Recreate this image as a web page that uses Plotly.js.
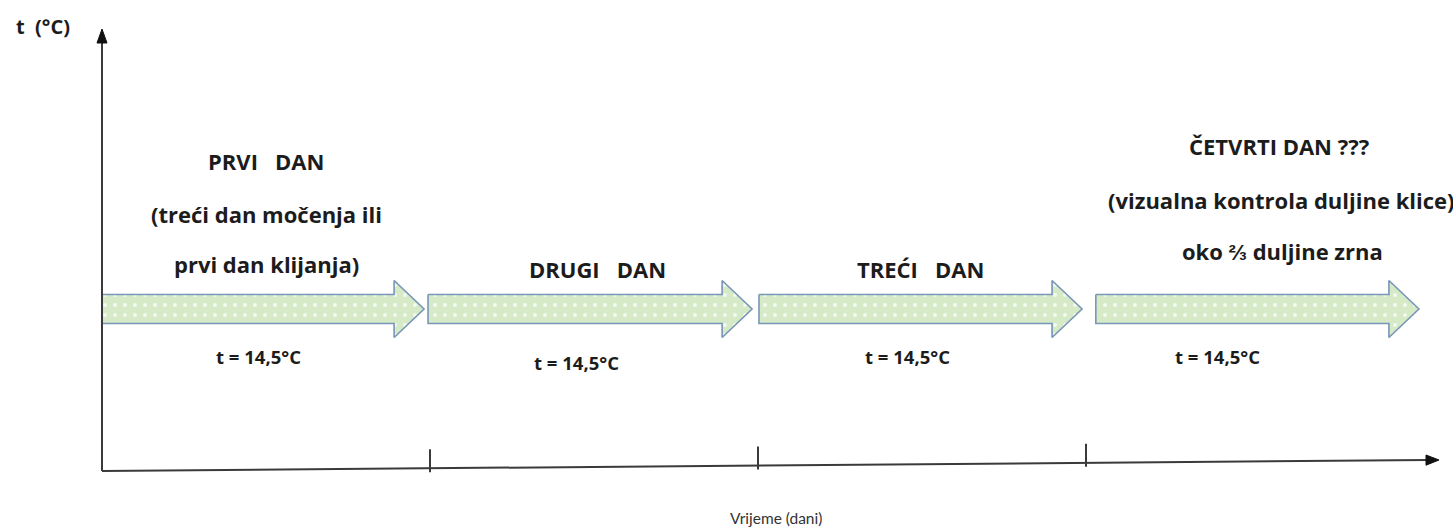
<!DOCTYPE html>
<html>
<head>
<meta charset="utf-8">
<script src="https://cdn.plot.ly/plotly-3.0.1.min.js"></script>
<style>html,body{margin:0;padding:0;background:#fff;}#chart{width:1453px;height:528px;}</style>
</head>
<body>
<div id="chart"></div>
<script>
// ---------- data ----------
const tickDays = [1, 2, 3];
const arrowStart = [0, 0.994, 2.003, 3.030];
const arrowEnd = [0.982, 1.982, 2.988, 4.015];
const dayTitles = ["PRVI   DAN", "DRUGI   DAN", "TREĆI   DAN", "ČETVRTI DAN ???"];
const dayNotes = [["(treći dan močenja ili", "prvi dan klijanja)"], [], [], ["(vizualna kontrola duljine klice)", "oko ⅔ duljine zrna"]];
const temps = [14.5, 14.5, 14.5, 14.5];
const yAxisLabel = "t  (°C)";
const xAxisLabel = "Vrijeme (dani)";

// ---------- layout helpers (pixel -> data) ----------
const PX0 = 102, PXD = 328, PY0 = 471, PYU = 436;
const X = px => (px - PX0) / PXD;
const Y = py => (PY0 - py) / PYU;
const nb = s => s.replace(/ /g, "\u00a0");

const titlePos = [[266, 161], [597, 269], [920, 269], [1279, 146]];
const notePos = [[[266, 214], [266, 264]], [], [], [[1281, 200], [1282, 251]]];
const tempPos = [[258, 356], [576, 362], [907, 356], [1217, 356]];

const font = "'Open Sans', sans-serif";
const ink = "#1c1c1c";
const axisColor = "#3a3a3a";

// ---------- arrows ----------
const cy = Y(309), bodyH = 14.5 / PYU, headH = 28.5 / PYU, headL = 30 / PXD;
const traces = arrowStart.map((s, i) => {
  const e = arrowEnd[i], h = e - headL;
  return {
    type: "scatter", mode: "lines", fill: "toself",
    x: [s, h, h, e, h, h, s, s],
    y: [cy + bodyH, cy + bodyH, cy + headH, cy, cy - headH, cy - bodyH, cy - bodyH, cy + bodyH],
    line: {color: "#7896b8", width: 1.6},
    fillcolor: "#d6eac8",
    fillpattern: {shape: ".", bgcolor: "#d6eac8", fgcolor: "#f4faf0", size: 10, solidity: 0.12},
    hoverinfo: "skip", showlegend: false
  };
});

// ---------- axes ----------
const xEnd = X(1428), xTip = X(1439);
const axisYat = d => Y(471 - 11 * (d * PXD) / (1428 - PX0));
const shapes = [];
shapes.push({type: "line", x0: 0, y0: Y(471), x1: 0, y1: Y(40), line: {color: axisColor, width: 2}});
shapes.push({type: "path", path: `M ${0} ${Y(29)} L ${X(97)} ${Y(43)} L ${X(107)} ${Y(43)} Z`, fillcolor: "#111", line: {color: "#111", width: 1}});
shapes.push({type: "line", x0: 0, y0: Y(471), x1: xEnd, y1: Y(460), line: {color: axisColor, width: 2}});
shapes.push({type: "path", path: `M ${xTip} ${Y(460)} L ${X(1426)} ${Y(455)} L ${X(1426)} ${Y(465.2)} Z`, fillcolor: "#111", line: {color: "#111", width: 1}});
tickDays.forEach(d => {
  const ay = axisYat(d);
  shapes.push({type: "line", x0: d, x1: d, y0: ay + 19 / PYU, y1: ay - 4 / PYU, line: {color: axisColor, width: 2}});
});

// ---------- annotations ----------
const ann = [];
const txt = (px, py, text, size, bold, color, fam) => ann.push({
  x: X(px), y: Y(py), xref: "x", yref: "y", showarrow: false,
  text: bold ? "<b>" + nb(text) + "</b>" : nb(text),
  font: {family: fam || font, size: size, color: color || ink}, xanchor: "center", yanchor: "middle"
});
dayTitles.forEach((t, i) => txt(titlePos[i][0], titlePos[i][1], t, 22, true));
dayNotes.forEach((lines, i) => lines.forEach((l, j) => txt(notePos[i][j][0], notePos[i][j][1], l, 22, true)));
temps.forEach((t, i) => txt(tempPos[i][0], tempPos[i][1], "t = " + String(t).replace(".", ",") + "°C", 18.5, true));
txt(43, 26, yAxisLabel, 20, true);
txt(776, 518, xAxisLabel, 15.5, false, "#333", "Lato, sans-serif");

const layout = {
  width: 1453, height: 528,
  margin: {l: 0, r: 0, t: 0, b: 0},
  paper_bgcolor: "#ffffff", plot_bgcolor: "#ffffff",
  xaxis: {range: [X(0), X(1453)], visible: false, fixedrange: true},
  yaxis: {range: [Y(528), Y(0)], visible: false, fixedrange: true},
  shapes: shapes, annotations: ann, showlegend: false
};
Plotly.newPlot("chart", traces, layout, {staticPlot: true, displayModeBar: false});
</script>
</body>
</html>
